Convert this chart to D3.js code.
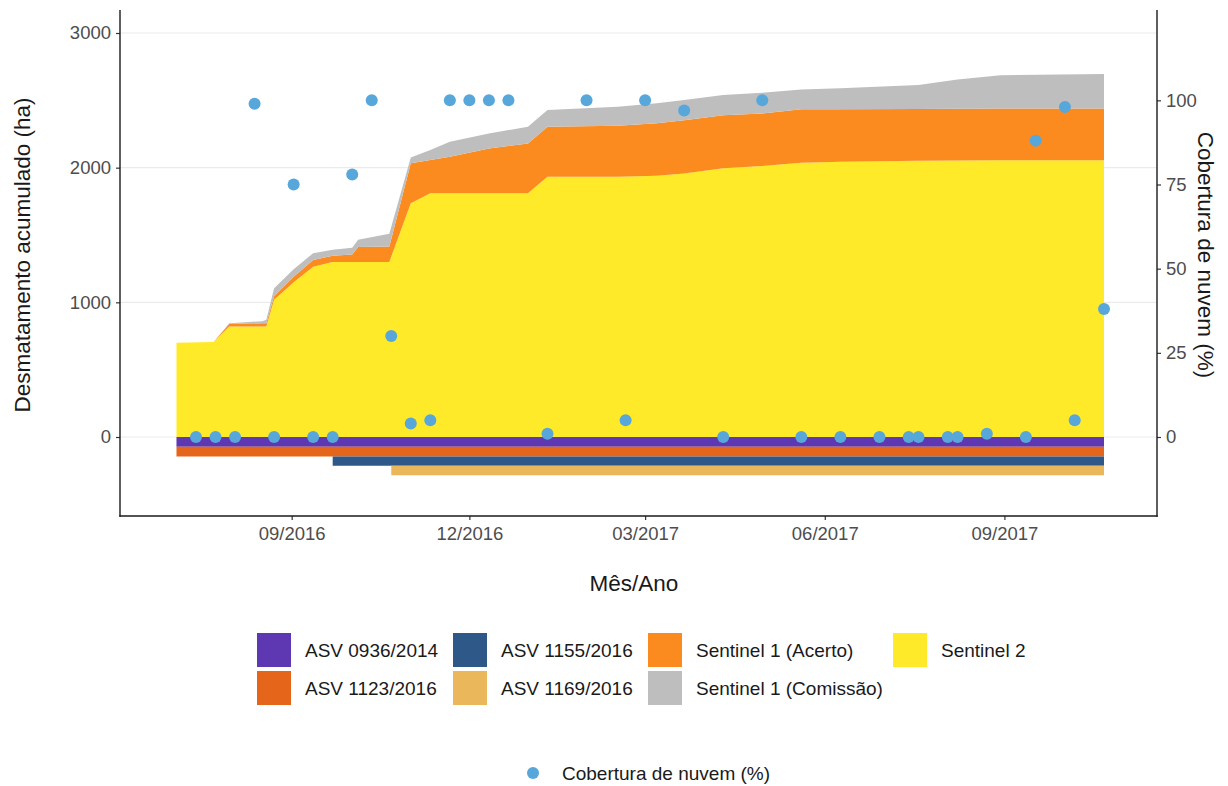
<!DOCTYPE html>
<html><head><meta charset="utf-8">
<script src="https://cdn.jsdelivr.net/npm/d3@7"></script>
<style>body{margin:0;background:#fff;} text{font-family:"Liberation Sans",Arial,sans-serif;}</style>
</head><body><svg id="c" width="1228" height="786"></svg>
<script>
// ---- data ----
const areaDates = ["2016-07-04","2016-07-23","2016-07-31","2016-08-17","2016-08-19","2016-08-23","2016-09-02","2016-09-12","2016-09-22","2016-10-02","2016-10-05","2016-10-21","2016-11-01","2016-11-11","2016-11-21","2016-12-11","2016-12-31","2017-01-10","2017-02-15","2017-03-07","2017-03-21","2017-04-10","2017-04-30","2017-05-20","2017-06-09","2017-07-19","2017-08-08","2017-08-30","2017-10-22"];
const sentinel2  = [700,705,820,820,820,1020,1150,1265,1300,1300,1300,1300,1735,1810,1810,1810,1810,1932,1932,1940,1957,1995,2012,2036,2044,2051,2053,2055,2056];
const s1Acerto   = [0,0,20,25,25,25,40,50,45,55,110,115,297,247,271,333,370,372,380,390,396,395,391,397,389,384,385,385,384];
const s1Comissao = [0,0,5,15,25,60,55,50,45,50,55,95,44,75,111,111,124,124,140,148,149,149,153,148,156,178,217,247,255];

const asvNames  = ["ASV 0936/2014","ASV 1123/2016","ASV 1155/2016","ASV 1169/2016"];
const asvValues = [72,72,70,70];
const asvStart  = ["2016-07-04","2016-07-04","2016-09-22","2016-10-22"];
const asvEnd    = "2017-10-22";

const cloudDates  = ["2016-07-14","2016-07-24","2016-08-03","2016-08-13","2016-08-23","2016-09-02","2016-09-12","2016-09-22","2016-10-02","2016-10-12","2016-10-22","2016-11-01","2016-11-11","2016-11-21","2016-12-01","2016-12-11","2016-12-21","2017-01-10","2017-01-30","2017-02-19","2017-03-01","2017-03-21","2017-04-10","2017-04-30","2017-05-20","2017-06-09","2017-06-29","2017-07-14","2017-07-19","2017-08-03","2017-08-08","2017-08-23","2017-09-12","2017-09-17","2017-10-02","2017-10-07","2017-10-22"];
const cloudValues = [0,0,0,99,0,75,0,0,78,100,30,4,5,100,100,100,100,1,100,5,100,97,0,100,0,0,0,0,0,0,0,1,0,88,98,5,38];

const yTicks = [0,1000,2000,3000];
const cloudTicks = [0,25,50,75,100];
const xTickDates = ["2016-09-01","2016-12-01","2017-03-01","2017-06-01","2017-09-01"];

const layerNames = ["Sentinel 2","Sentinel 1 (Acerto)","Sentinel 1 (Comissão)"];
const colors = {
  "ASV 0936/2014":"#5E38B2","ASV 1123/2016":"#E5661B","ASV 1155/2016":"#2D5887","ASV 1169/2016":"#EBB75B",
  "Sentinel 1 (Acerto)":"#FC8B1F","Sentinel 1 (Comissão)":"#BEBEBE","Sentinel 2":"#FFEA2A"
};
const dotColor = "#58A7DA";
const legendOrder = ["ASV 0936/2014","ASV 1123/2016","ASV 1155/2016","ASV 1169/2016","Sentinel 1 (Acerto)","Sentinel 1 (Comissão)","Sentinel 2"];

// ---- setup ----
const parse = d3.utcParse("%Y-%m-%d");
const svg = d3.select("#c");
const P = {l:120, r:1157, t:10, b:516};

const x = d3.scaleUtc().domain([parse(cloudDates[0]), parse(cloudDates[cloudDates.length-1])]).range([196,1104]);
const y = d3.scaleLinear().domain([0,3000]).range([437,33]);
const yc = d3.scaleLinear().domain([0,100]).range([y(0), y(2500)]);

// grid
svg.append("g").selectAll("line").data(yTicks).join("line")
  .attr("x1",P.l).attr("x2",P.r).attr("y1",d=>y(d)).attr("y2",d=>y(d))
  .attr("stroke","#EBEBEB").attr("stroke-width",1.1);

// stacked positive areas
const table = areaDates.map((d,i)=>({date:parse(d),"Sentinel 2":sentinel2[i],"Sentinel 1 (Acerto)":s1Acerto[i],"Sentinel 1 (Comissão)":s1Comissao[i]}));
const series = d3.stack().keys(layerNames)(table);
const area = d3.area().x(d=>x(d.data.date)).y0(d=>y(d[0])).y1(d=>y(d[1]));
svg.append("g").selectAll("path").data(series).join("path")
  .attr("d",area).attr("fill",d=>colors[d.key]);

// negative ASV bands
let base = 0;
const bands = asvNames.map((n,i)=>{const b={name:n,top:base,bot:base-asvValues[i],start:parse(asvStart[i]),end:parse(asvEnd)}; base-=asvValues[i]; return b;});
const bandArea = d3.area().x(d=>x(d.t)).y0(d=>y(d.lo)).y1(d=>y(d.hi));
svg.append("g").selectAll("path").data(bands).join("path")
  .attr("d",b=>bandArea([{t:b.start,lo:b.bot,hi:b.top},{t:b.end,lo:b.bot,hi:b.top}]))
  .attr("fill",b=>colors[b.name]);

// cloud dots
svg.append("g").selectAll("circle").data(cloudDates.map((d,i)=>({date:parse(d),v:cloudValues[i]}))).join("circle")
  .attr("cx",d=>x(d.date)).attr("cy",d=>yc(d.v)).attr("r",6).attr("fill",dotColor);

// axes
const axisStyle = g=>{
  g.select(".domain").remove();
  g.selectAll(".tick line").attr("stroke","#333").attr("stroke-width",1.2);
  g.selectAll(".tick text").attr("fill","#4D4D4D").style("font-size","18.5px").style("font-family","Liberation Sans, Arial, sans-serif");
};
svg.append("g").attr("transform",`translate(${P.l},0)`)
  .call(d3.axisLeft(y).tickValues(yTicks).tickSize(4).tickPadding(5).tickFormat(d3.format("d"))).call(axisStyle);
svg.append("g").attr("transform",`translate(${P.r},0)`)
  .call(d3.axisRight(yc).tickValues(cloudTicks).tickSize(4).tickPadding(5)).call(axisStyle);
svg.append("g").attr("transform",`translate(0,${P.b})`)
  .call(d3.axisBottom(x).tickValues(xTickDates.map(parse)).tickSize(4).tickPadding(7).tickFormat(d3.utcFormat("%m/%Y"))).call(axisStyle);

// axis lines
const lineAttrs = s=>s.attr("stroke","#1A1A1A").attr("stroke-width",1.4);
svg.append("line").attr("x1",P.l).attr("x2",P.l).attr("y1",P.t).attr("y2",P.b+0.7).call(lineAttrs);
svg.append("line").attr("x1",P.r).attr("x2",P.r).attr("y1",P.t).attr("y2",P.b+0.7).call(lineAttrs);
svg.append("line").attr("x1",P.l-0.7).attr("x2",P.r+0.7).attr("y1",P.b).attr("y2",P.b).call(lineAttrs);

// titles
svg.append("text").attr("transform","translate(30,255) rotate(-90)").attr("text-anchor","middle")
  .style("font-size","22.5px").attr("fill","#1A1A1A").text("Desmatamento acumulado (ha)");
svg.append("text").attr("transform","translate(1198,255) rotate(90)").attr("text-anchor","middle")
  .style("font-size","22.5px").attr("fill","#1A1A1A").text("Cobertura de nuvem (%)");
svg.append("text").attr("x",634).attr("y",591).attr("text-anchor","middle")
  .style("font-size","22.5px").attr("fill","#1A1A1A").text("Mês/Ano");

// legend
const colX = [257,453,648,893];
const rowY = [633,671];
const leg = svg.append("g");
legendOrder.forEach((n,i)=>{
  const c = Math.floor(i/2), r = i%2;
  leg.append("rect").attr("x",colX[c]).attr("y",rowY[r]).attr("width",34).attr("height",34).attr("fill",colors[n]);
  leg.append("text").attr("x",colX[c]+48).attr("y",rowY[r]+17).attr("dy","0.35em")
    .style("font-size","19px").attr("fill","#1A1A1A").text(n);
});
svg.append("circle").attr("cx",533).attr("cy",773).attr("r",6).attr("fill",dotColor);
svg.append("text").attr("x",562).attr("y",773).attr("dy","0.35em").style("font-size","19px").attr("fill","#1A1A1A").text("Cobertura de nuvem (%)");
</script></body></html>
